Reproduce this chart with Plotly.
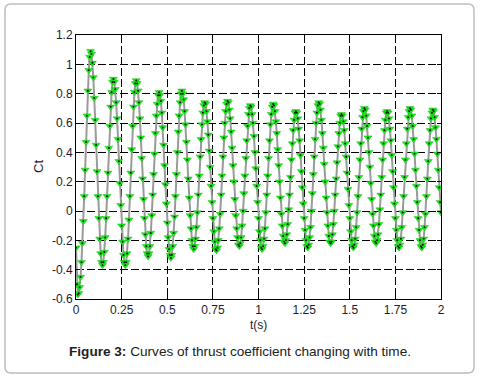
import plotly.graph_objects as go

# sampling step of the recorded series (s)
t_step = 0.005

# thrust coefficient Ct (one value per 0.005 s, 0..2 s)
ct = [
    -0.25, -0.50, -0.57, -0.56, -0.52, -0.45, -0.35, -0.22, -0.07, 0.10, 0.28, 0.47, 0.65, 0.82, 0.96, 1.05, 1.09,
    1.07, 1.01, 0.91, 0.77, 0.62, 0.45, 0.27, 0.10, -0.05, -0.19, -0.29, -0.35, -0.37,
    -0.35, -0.28, -0.18, -0.05, 0.10, 0.26, 0.43, 0.58, 0.71, 0.81, 0.88, 0.90,
    0.88, 0.83, 0.74, 0.63, 0.49, 0.34, 0.19, 0.04, -0.10, -0.21, -0.30, -0.35, -0.37,
    -0.35, -0.29, -0.19, -0.06, 0.10, 0.26, 0.42, 0.58, 0.71, 0.81, 0.87, 0.89,
    0.87, 0.82, 0.74, 0.63, 0.50, 0.36, 0.22, 0.08, -0.05, -0.16, -0.24, -0.29, -0.31,
    -0.29, -0.24, -0.15, -0.03, 0.11, 0.25, 0.39, 0.53, 0.65, 0.73, 0.79, 0.81,
    0.79, 0.75, 0.67, 0.57, 0.45, 0.31, 0.18, 0.05, -0.08, -0.18, -0.26, -0.30, -0.32,
    -0.30, -0.24, -0.15, -0.04, 0.10, 0.25, 0.40, 0.54, 0.65, 0.74, 0.80, 0.82,
    0.80, 0.76, 0.68, 0.59, 0.47, 0.35, 0.22, 0.09, -0.03, -0.12, -0.20, -0.24, -0.26,
    -0.24, -0.19, -0.11, -0.01, 0.11, 0.24, 0.37, 0.49, 0.59, 0.67, 0.72, 0.74,
    0.73, 0.68, 0.61, 0.52, 0.41, 0.30, 0.17, 0.06, -0.05, -0.14, -0.21, -0.26, -0.27,
    -0.25, -0.20, -0.12, -0.02, 0.11, 0.24, 0.37, 0.50, 0.60, 0.68, 0.73, 0.75,
    0.74, 0.69, 0.63, 0.54, 0.43, 0.31, 0.20, 0.08, -0.03, -0.12, -0.18, -0.23, -0.24,
    -0.22, -0.18, -0.10, 0.00, 0.12, 0.24, 0.36, 0.48, 0.58, 0.66, 0.70, 0.72,
    0.71, 0.66, 0.60, 0.51, 0.40, 0.29, 0.17, 0.06, -0.05, -0.14, -0.20, -0.25, -0.26,
    -0.24, -0.19, -0.12, -0.01, 0.11, 0.24, 0.36, 0.48, 0.59, 0.66, 0.71, 0.73,
    0.72, 0.68, 0.61, 0.53, 0.42, 0.31, 0.20, 0.09, -0.02, -0.10, -0.17, -0.21, -0.22,
    -0.20, -0.16, -0.09, 0.01, 0.11, 0.23, 0.35, 0.46, 0.55, 0.62, 0.67, 0.68,
    0.67, 0.63, 0.56, 0.48, 0.38, 0.27, 0.16, 0.05, -0.05, -0.13, -0.20, -0.24, -0.25,
    -0.23, -0.18, -0.11, 0.00, 0.12, 0.25, 0.37, 0.49, 0.60, 0.67, 0.72, 0.74,
    0.73, 0.69, 0.62, 0.53, 0.43, 0.32, 0.20, 0.09, -0.01, -0.10, -0.17, -0.21, -0.22,
    -0.21, -0.16, -0.09, 0.00, 0.11, 0.22, 0.33, 0.44, 0.53, 0.60, 0.65, 0.66,
    0.65, 0.61, 0.55, 0.46, 0.37, 0.26, 0.15, 0.04, -0.05, -0.14, -0.20, -0.24, -0.25,
    -0.23, -0.19, -0.11, -0.01, 0.10, 0.23, 0.35, 0.46, 0.56, 0.64, 0.68, 0.70,
    0.69, 0.65, 0.58, 0.50, 0.40, 0.30, 0.19, 0.08, -0.02, -0.10, -0.17, -0.21, -0.22,
    -0.20, -0.16, -0.09, 0.01, 0.11, 0.23, 0.35, 0.46, 0.55, 0.62, 0.67, 0.68,
    0.67, 0.63, 0.56, 0.48, 0.38, 0.27, 0.16, 0.05, -0.05, -0.13, -0.20, -0.24, -0.25,
    -0.23, -0.19, -0.11, -0.01, 0.10, 0.23, 0.35, 0.46, 0.56, 0.64, 0.68, 0.70,
    0.69, 0.65, 0.58, 0.49, 0.39, 0.28, 0.17, 0.06, -0.05, -0.13, -0.20, -0.24, -0.25,
    -0.23, -0.19, -0.11, -0.02, 0.10, 0.22, 0.34, 0.46, 0.55, 0.63, 0.67, 0.69,
    0.68, 0.64, 0.57, 0.49, 0.39, 0.28, 0.16, 0.06, -0.01,
]
t = [round(i * t_step, 3) for i in range(len(ct))]

x_ticks = [0, 0.25, 0.5, 0.75, 1, 1.25, 1.5, 1.75, 2]
x_tick_labels = ["0", "0.25", "0.5", "0.75", "1", "1.25", "1.5", "1.75", "2"]
y_ticks = [-0.6, -0.4, -0.2, 0, 0.2, 0.4, 0.6, 0.8, 1, 1.2]
y_tick_labels = ["-0.6", "-0.4", "-0.2", "0", "0.2", "0.4", "0.6", "0.8", "1", "1.2"]

tick_font = dict(family="Liberation Sans, Arial, sans-serif", size=12, color="#1c1c30")

fig = go.Figure()
fig.add_trace(go.Scatter(
    x=t, y=ct, mode="lines+markers",
    line=dict(color="#9a9a9a", width=2),
    marker=dict(symbol="triangle-down", size=7, color="#11ee11",
                line=dict(color="#22bb22", width=0.5)),
    showlegend=False, hoverinfo="skip",
))
fig.add_trace(go.Scatter(
    x=t, y=ct, mode="markers",
    marker=dict(symbol="circle", size=2, color="#111111"),
    showlegend=False, hoverinfo="skip",
))

W, H = 480, 379
ml, mr, mt, mb = 76, 39, 35, 80
pw, ph = W - ml - mr, H - mt - mb

def px(xp):
    return (xp - ml) / pw

def py(yp):
    return (H - mb - yp) / ph

# rounded outer frame
Lx, Rx, Ty, By = px(5), px(474), py(4), py(373)
rx, ry = 6 / pw, 6 / ph
path = (f"M {Lx+rx},{Ty} L {Rx-rx},{Ty} Q {Rx},{Ty} {Rx},{Ty-ry} "
        f"L {Rx},{By+ry} Q {Rx},{By} {Rx-rx},{By} "
        f"L {Lx+rx},{By} Q {Lx},{By} {Lx},{By+ry} "
        f"L {Lx},{Ty-ry} Q {Lx},{Ty} {Lx+rx},{Ty} Z")

fig.update_layout(
    width=W, height=H,
    margin=dict(l=ml, r=mr, t=mt, b=mb, pad=0),
    paper_bgcolor="white", plot_bgcolor="white",
    shapes=[dict(type="path", xref="paper", yref="paper", path=path,
                 line=dict(color="#bdbdbd", width=1.5), layer="below")],
    annotations=[
        dict(text="Ct", x=px(38), y=0.5, xref="paper", yref="paper",
             textangle=-90, showarrow=False, xanchor="center", yanchor="middle",
             font=dict(family="Liberation Sans, Arial, sans-serif", size=13, color="#1c1c30")),
        dict(text="t(s)", x=0.5, y=py(325), xref="paper", yref="paper",
             showarrow=False, xanchor="center", yanchor="middle",
             font=dict(family="Liberation Sans, Arial, sans-serif", size=12, color="#1c1c30")),
        dict(text="<b>Figure 3:</b> Curves of thrust coefficient changing with time.",
             x=px(240), y=py(351), xref="paper", yref="paper",
             showarrow=False, xanchor="center", yanchor="middle",
             font=dict(family="Liberation Sans, Arial, sans-serif", size=13.6, color="#222222")),
    ],
)
fig.update_xaxes(
    range=[0, 2], tickvals=x_ticks, ticktext=x_tick_labels,
    showgrid=True, gridcolor="black", gridwidth=1, griddash="8px,3px",
    zeroline=False, showline=True, linecolor="black", linewidth=1, mirror="ticks",
    ticks="inside", ticklen=4, tickcolor="black", tickfont=tick_font,
)
fig.update_yaxes(
    range=[-0.6, 1.2], tickvals=y_ticks, ticktext=y_tick_labels,
    showgrid=True, gridcolor="black", gridwidth=1, griddash="8px,3px",
    zeroline=False, showline=True, linecolor="black", linewidth=1, mirror="ticks",
    ticks="inside", ticklen=4, tickcolor="black", tickfont=tick_font,
)

fig.write_html("out.html")
